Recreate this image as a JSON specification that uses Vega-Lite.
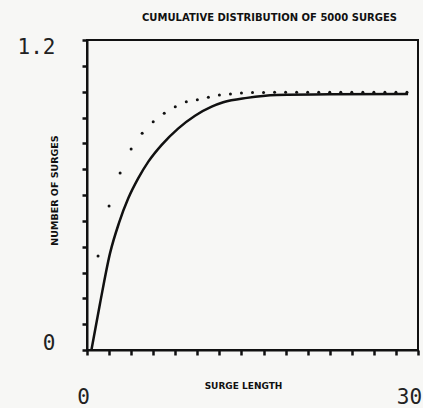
{
  "$schema": "https://vega.github.io/schema/vega-lite/v6.json",
  "width": 331,
  "height": 310,
  "autosize": {"type": "none"},
  "padding": {"left": 87, "top": 40, "right": 5, "bottom": 58},
  "background": "#f7f7f5",
  "title": {
    "text": "CUMULATIVE DISTRIBUTION OF 5000 SURGES",
    "fontSize": 10,
    "fontWeight": "bold",
    "font": "DejaVu Sans",
    "color": "#111",
    "anchor": "middle",
    "dx": 17,
    "baseline": "middle",
    "offset": 8
  },
  "config": {
    "view": {"stroke": "#111", "strokeWidth": 2},
    "axis": {
      "domainColor": "#111",
      "domainWidth": 2,
      "tickColor": "#111",
      "tickWidth": 2.5,
      "tickSize": 5,
      "grid": false,
      "labelOverlap": false,
      "labelBound": false,
      "labelFont": "DejaVu Sans Mono",
      "labelFontSize": 21,
      "labelColor": "#222",
      "titleFont": "DejaVu Sans",
      "titleFontWeight": "bold",
      "titleColor": "#111"
    }
  },
  "layer": [
    {
      "data": {
        "values": [
          {"length": 0.4, "value": 0.0},
          {"length": 1.18, "value": 0.18},
          {"length": 2.09, "value": 0.375},
          {"length": 2.9, "value": 0.492},
          {"length": 3.74, "value": 0.587},
          {"length": 4.65, "value": 0.665},
          {"length": 5.56, "value": 0.729},
          {"length": 6.77, "value": 0.794},
          {"length": 8.28, "value": 0.858},
          {"length": 9.79, "value": 0.907},
          {"length": 11.3, "value": 0.942},
          {"length": 12.35, "value": 0.959},
          {"length": 14.5, "value": 0.976},
          {"length": 17.2, "value": 0.987},
          {"length": 22.0, "value": 0.99},
          {"length": 29.1, "value": 0.991}
        ]
      },
      "mark": {"type": "line", "color": "#111", "strokeWidth": 2.5, "interpolate": "monotone"},
      "encoding": {
        "x": {
          "field": "length",
          "type": "quantitative",
          "scale": {"domain": [0, 30], "nice": false},
          "axis": {
            "title": "SURGE LENGTH",
            "titleFontSize": 9,
            "values": [0, 2, 4, 6, 8, 10, 12, 14, 16, 18, 20, 22, 24, 26, 28, 30],
            "tickCount": 100,
            "labelExpr": "datum.value == 0 ? '0' : datum.value == 30 ? '30' : ''",
            "labelPadding": 31,
            "labelOffset": {"condition": {"test": "datum.value == 30", "value": -9}, "value": -4},
            "labelFlush": false,
            "titleX": 156,
            "titleY": 35,
            "titleBaseline": "middle"
          }
        },
        "y": {
          "field": "value",
          "type": "quantitative",
          "scale": {"domain": [0, 1.2], "nice": false},
          "axis": {
            "title": "NUMBER OF SURGES",
            "titleFontSize": 9.5,
            "values": [0, 0.1, 0.2, 0.3, 0.4, 0.5, 0.6, 0.7, 0.8, 0.9, 1.0, 1.1, 1.2],
            "tickCount": 100,
            "labelExpr": "datum.value == 0 ? '0' : datum.value > 1.15 ? '1.2' : ''",
            "labelPadding": 27,
            "labelFlush": false,
            "labelBaseline": "middle",
            "labelOffset": {"condition": {"test": "datum.value == 0", "value": -7}, "value": 7},
            "titleX": -33,
            "titleY": 150,
            "titleAlign": "center",
            "titleBaseline": "middle",
            "titleAngle": -90
          }
        }
      }
    },
    {
      "data": {
        "values": [
          {"length": 1, "value": 0.364},
          {"length": 2, "value": 0.557},
          {"length": 3, "value": 0.685},
          {"length": 4, "value": 0.778},
          {"length": 5, "value": 0.839},
          {"length": 6, "value": 0.884},
          {"length": 7, "value": 0.916},
          {"length": 8, "value": 0.942},
          {"length": 9, "value": 0.961},
          {"length": 10, "value": 0.969},
          {"length": 11, "value": 0.978},
          {"length": 12, "value": 0.987},
          {"length": 13, "value": 0.991},
          {"length": 14, "value": 0.995},
          {"length": 15, "value": 0.997},
          {"length": 16, "value": 0.997},
          {"length": 17, "value": 0.998},
          {"length": 18, "value": 0.998},
          {"length": 19, "value": 0.998},
          {"length": 20, "value": 0.998},
          {"length": 21, "value": 0.998},
          {"length": 22, "value": 0.998},
          {"length": 23, "value": 0.998},
          {"length": 24, "value": 0.998},
          {"length": 25, "value": 0.998},
          {"length": 26, "value": 0.998},
          {"length": 27, "value": 0.998},
          {"length": 28, "value": 0.998},
          {"length": 29, "value": 0.998}
        ]
      },
      "mark": {"type": "point", "filled": true, "color": "#111", "size": 9, "opacity": 1},
      "encoding": {
        "x": {"field": "length", "type": "quantitative"},
        "y": {"field": "value", "type": "quantitative"}
      }
    }
  ]
}
